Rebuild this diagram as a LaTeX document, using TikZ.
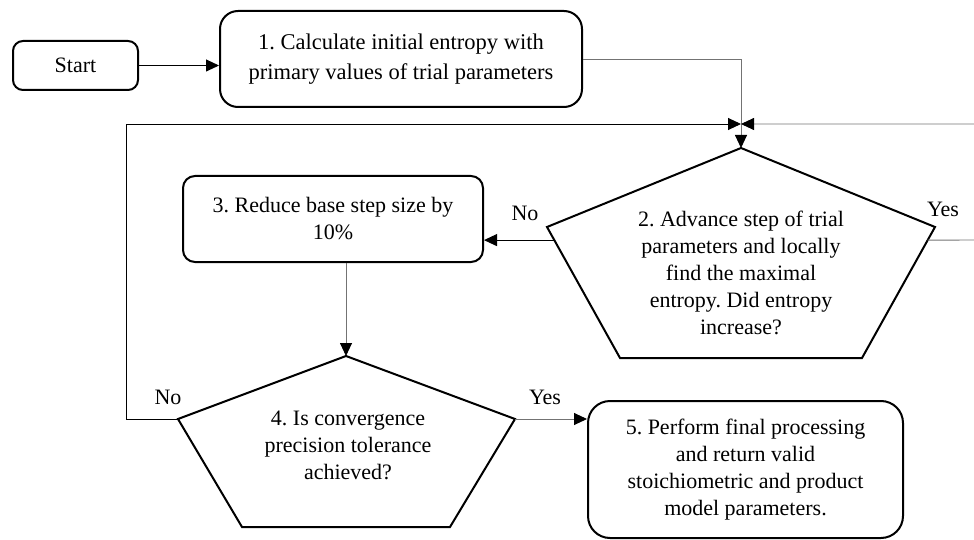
\documentclass[tikz,border=0pt]{standalone}
\usepackage{fontspec}
\setmainfont{Liberation Serif}
\usetikzlibrary{arrows.meta,calc}
\begin{document}
\frenchspacing
\begin{tikzpicture}[x=1pt,y=-1pt,
  every node/.style={font=\fontsize{22}{27}\selectfont},
  box/.style={draw,line width=2pt,align=center,inner sep=0pt},
  pent/.style={draw,line width=2pt,line join=miter},
  conn/.style={line width=0.9pt},
  gconn/.style={line width=0.9pt,draw=black!55},
  arr/.style={-{Triangle[length=13pt,width=12pt,color=black]}},
  txt/.style={align=center,inner sep=0pt}]
\clip (0,0) rectangle (974,540);
% boxes
\node[box,rounded corners=10pt,minimum width=125pt,minimum height=49pt] (start) at (75.5,65.5) {Start};
\node[box,rounded corners=18pt,minimum width=362pt,minimum height=96pt,font=\fontsize{22.5}{30}\selectfont] (b1) at (401,59) {1. Calculate initial entropy with\\primary values of trial parameters};
\node[box,rounded corners=12pt,minimum width=300pt,minimum height=86pt] (b3) at (333,219) {3. Reduce base step size by\\10\%};
\node[box,rounded corners=22pt,minimum width=315pt,minimum height=137pt] (b5) at (745.5,469.5) {5. Perform final processing\\and return valid\\stoichiometric and product\\model parameters.};
% pentagon 2
\coordinate (p2t) at (741,148);
\coordinate (p2l) at (547,227);
\coordinate (p2r) at (935,227);
\coordinate (p2bl) at (620,358);
\coordinate (p2br) at (862,358);
\draw[pent] (p2t) -- (p2r) -- (p2br) -- (p2bl) -- (p2l) -- cycle;
\node[txt] (p2) at (741,273) {2. Advance step of trial\\parameters and locally\\find the maximal\\entropy. Did entropy\\increase?};
% pentagon 4
\coordinate (p4t) at (346,356);
\coordinate (p4l) at (178,419);
\coordinate (p4r) at (515,419);
\coordinate (p4bl) at (242,527);
\coordinate (p4br) at (450,527);
\draw[pent] (p4t) -- (p4r) -- (p4br) -- (p4bl) -- (p4l) -- cycle;
\node[txt] (p4) at (348,445) {4. Is convergence\\precision tolerance\\achieved?};
% junction and helper coordinates
\coordinate (j) at (741,124);
\coordinate (p2nl) at ($(p2l)!0.1!(p2bl)$);
\coordinate (p2nr) at ($(p2r)!0.1!(p2br)$);
\coordinate (loopL) at (126,419);
\coordinate (loopR) at (990,240);
% connectors
\draw[conn,arr] (start.east) -- (start.east -| b1.west);
\draw[gconn,arr] (b1.east) -| (p2t);
\draw[conn,arr] (p2nl) -- (p2nl -| b3.east);
\draw[gconn,arr] (p2nr) -- (loopR) |- (j);
\draw[gconn,arr] (b3.south -| p4t) -- (p4t);
\draw[conn,arr] (p4l) -- (loopL) |- (j);
\draw[gconn,arr] (p4r) -- (p4r -| b5.west);
% labels
\node (lno2) at (525,213) {No};
\node (lyes2) at (943,209) {Yes};
\node (lno4) at (168,397) {No};
\node (lyes4) at (545,397) {Yes};
\end{tikzpicture}
\end{document}
